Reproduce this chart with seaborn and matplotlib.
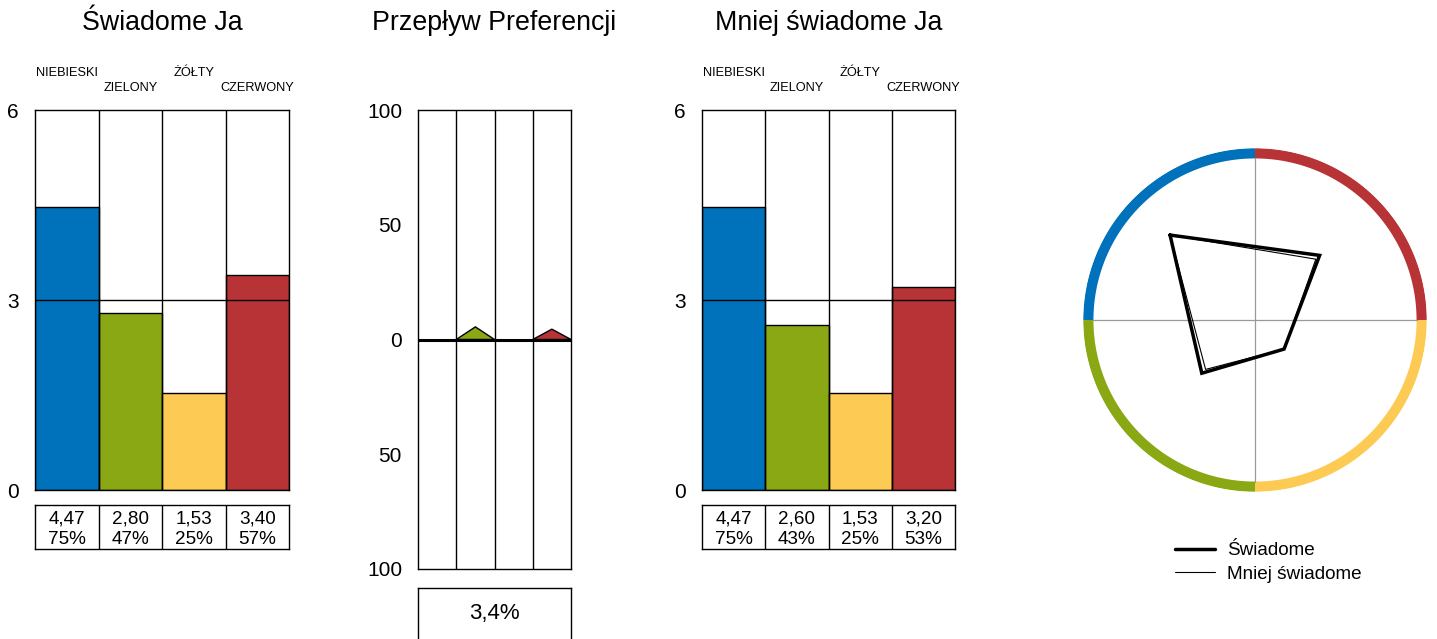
import matplotlib
matplotlib.use("Agg")
import matplotlib.pyplot as plt
from matplotlib.lines import Line2D
import seaborn as sns
import numpy as np
import pandas as pd

# ---------------- data ----------------
categories = ["NIEBIESKI", "ZIELONY", "ŻÓŁTY", "CZERWONY"]
colors = ["#0072BB", "#8AA813", "#FDCB53", "#B83335"]
conscious = [4.47, 2.80, 1.53, 3.40]
conscious_pct = [75, 47, 25, 57]
less_conscious = [4.47, 2.60, 1.53, 3.20]
less_pct = [75, 43, 25, 53]
flow = [0.0, 5.5, 0.0, 4.5]
flow_total = "3,4%"
titles = ["Świadome Ja", "Przepływ Preferencji", "Mniej świadome Ja"]
legend_labels = ["Świadome", "Mniej świadome"]
radar_angles_deg = [135, 225, 315, 45]  # NIEBIESKI, ZIELONY, ŻÓŁTY, CZERWONY

sns.set_style("white")
plt.rcParams["font.family"] = ["Liberation Sans", "DejaVu Sans"]
plt.rcParams["text.color"] = "black"
plt.rcParams["ytick.color"] = "black"
plt.rcParams["xtick.color"] = "black"

W, H = 1437, 639
fig = plt.figure(figsize=(W / 100, H / 100), dpi=100)

TICK_FS = 15
TITLE_FS = 19.3
SMALL_FS = 9.2
TABLE_FS = 13.6


def px_axes(x0, y0, x1, y1, **kw):
    return fig.add_axes([x0 / W, 1 - y1 / H, (x1 - x0) / W, (y1 - y0) / H], **kw)


def style_frame(ax, lw=1.0):
    for s in ax.spines.values():
        s.set_visible(True)
        s.set_color("black")
        s.set_linewidth(lw)


def fmt(v):
    return f"{v:.2f}".replace(".", ",")


def bar_panel(x0, x1, values, pcts, title):
    ax = px_axes(x0, 110, x1, 490)
    df = pd.DataFrame({"cat": categories, "val": values})
    sns.barplot(data=df, x="cat", y="val", hue="cat", palette=colors,
                order=categories, hue_order=categories, legend=False,
                width=1, edgecolor="black", linewidth=1, saturation=1, ax=ax)
    ax.set_xlim(-0.5, 3.5)
    ax.set_ylim(0, 6)
    ax.set_xlabel("")
    ax.set_ylabel("")
    ax.set_xticks([])
    ax.set_yticks([0, 3, 6])
    ax.set_yticklabels(["0", "3", "6"])
    ax.tick_params(axis="y", length=0, pad=11.5, labelsize=TICK_FS,
                   labelcolor="black")
    for xv in [0.5, 1.5, 2.5]:
        ax.axvline(xv, color="black", lw=1, zorder=5)
    ax.axhline(3, color="black", lw=1, zorder=5)
    style_frame(ax)
    ypos = [(490 - 73) / 380, (490 - 88) / 380]
    for i, c in enumerate(categories):
        ax.text(i, ypos[i % 2], c, transform=ax.get_xaxis_transform(),
                ha="center", va="center", fontsize=SMALL_FS, clip_on=False)
    ax.text(0.5, (490 - 23) / 380, title, transform=ax.transAxes,
            ha="center", va="center", fontsize=TITLE_FS)

    tb = px_axes(x0, 505, x1, 549)
    tb.set_xlim(-0.5, 3.5)
    tb.set_ylim(0, 1)
    tb.set_xticks([])
    tb.set_yticks([])
    for xv in [0.5, 1.5, 2.5]:
        tb.axvline(xv, color="black", lw=1)
    style_frame(tb)
    for i, (v, p) in enumerate(zip(values, pcts)):
        tb.text(i, 0.69, fmt(v), ha="center", va="center", fontsize=TABLE_FS)
        tb.text(i, 0.21, f"{p}%", ha="center", va="center", fontsize=TABLE_FS)


bar_panel(35, 289, conscious, conscious_pct, titles[0])
bar_panel(702, 955, less_conscious, less_pct, titles[2])

# ---------------- middle panel ----------------
ax = px_axes(418, 110, 571, 569)
ax.set_xlim(-0.5, 3.5)
ax.set_ylim(-100, 100)
ax.set_xticks([])
ax.set_yticks([-100, -50, 0, 50, 100])
ax.set_yticklabels(["100", "50", "0", "50", "100"])
ax.tick_params(axis="y", length=0, pad=11.5, labelsize=TICK_FS,
               labelcolor="black")
for i, v in enumerate(flow):
    if v > 0:
        ax.fill([i - 0.5, i, i + 0.5], [0, v, 0], facecolor=colors[i],
                edgecolor="black", lw=1, zorder=3)
for xv in [0.5, 1.5, 2.5]:
    ax.axvline(xv, color="black", lw=1, zorder=4)
ax.axhline(0, color="black", lw=2.2, zorder=5)
style_frame(ax)
ax.text(0.5, (569 - 23) / 459, titles[1], transform=ax.transAxes,
        ha="center", va="center", fontsize=TITLE_FS)

bx = px_axes(418, 588, 571, 650)
bx.set_xticks([])
bx.set_yticks([])
style_frame(bx)
bx.text(0.5, (650 - 614) / 62, flow_total, ha="center", va="center",
        fontsize=16, transform=bx.transAxes)

# ---------------- radar ----------------
cx, cy, R = 1255, 320, 172
rmax = 6.4
pax = px_axes(cx - R, cy - R, cx + R, cy + R, projection="polar")
pax.set_ylim(0, rmax)
pax.grid(False)
pax.set_xticks([])
pax.set_yticks([])
pax.spines["polar"].set_visible(False)
quadrants = [(90, 180), (180, 270), (270, 360), (0, 90)]
for (a0, a1), col in zip(quadrants, colors):
    th = np.radians(np.linspace(a0, a1, 100))
    pax.plot(th, np.full_like(th, 6.2), color=col, lw=7.3,
             solid_capstyle="butt")
for a in [0, 90, 180, 270]:
    pax.plot([np.radians(a)] * 2, [0, 6.02], color="#999999", lw=0.9)
th = np.radians(radar_angles_deg + radar_angles_deg[:1])
pax.plot(th, conscious + conscious[:1], color="black", lw=2.5,
         solid_joinstyle="miter")
pax.plot(th, less_conscious + less_conscious[:1], color="black", lw=0.8,
         solid_joinstyle="miter")

handles = [Line2D([], [], color="black", lw=2.5),
           Line2D([], [], color="black", lw=0.8)]
fig.legend(handles, legend_labels, loc="center left",
           bbox_to_anchor=(1175 / W, 1 - 562.5 / H), frameon=False,
           fontsize=13.6, borderpad=0, borderaxespad=0, handlelength=2.1,
           handletextpad=0.65, labelspacing=0.35)

fig.savefig("out.png", dpi=100, facecolor="white")
